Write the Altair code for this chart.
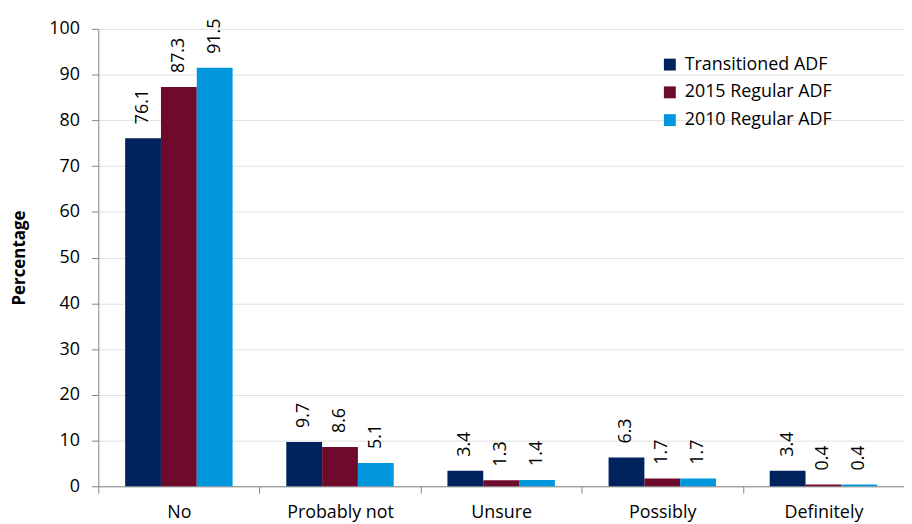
import altair as alt
import pandas as pd

categories = ["No", "Probably not", "Unsure", "Possibly", "Definitely"]
series = ["Transitioned ADF", "2015 Regular ADF", "2010 Regular ADF"]
transitioned = [76.1, 9.7, 3.4, 6.3, 3.4]
regular_2015 = [87.3, 8.6, 1.3, 1.7, 0.4]
regular_2010 = [91.5, 5.1, 1.4, 1.7, 0.4]
colors = ["#00235E", "#6E0A2B", "#0097DD"]
y_ticks = list(range(0, 101, 10))

rows = []
for s, vals in zip(series, [transitioned, regular_2015, regular_2010]):
    for c, v in zip(categories, vals):
        rows.append({"category": c, "series": s, "value": v})
df = pd.DataFrame(rows)

FONT = "Open Sans"

x_enc = alt.X(
    "category:N",
    sort=categories,
    scale=alt.Scale(paddingInner=0, paddingOuter=0),
    axis=alt.Axis(
        title=None,
        labelAngle=0,
        tickBand="extent",
        grid=False,
        tickSize=7,
        labelPadding=10,
        labelFontSize=18,
        labelFont=FONT,
        labelColor="#000000",
        domainColor="#868686",
        tickColor="#868686",
    ),
)
xoff_enc = alt.XOffset(
    "series:N",
    sort=series,
    scale=alt.Scale(paddingInner=0, paddingOuter=0.75),
)
y_enc = alt.Y(
    "value:Q",
    scale=alt.Scale(domain=[0, 100], nice=False),
    axis=alt.Axis(
        title="Percentage",
        titleFont=FONT,
        titleFontSize=17,
        titleFontWeight="bold",
        titleColor="#000000",
        titlePadding=20,
        values=y_ticks,
        tickSize=7,
        labelPadding=12,
        labelFontSize=18,
        labelFont=FONT,
        labelColor="#000000",
        grid=True,
        gridColor="#E0E0E0",
        domainColor="#868686",
        tickColor="#868686",
    ),
)

bars = alt.Chart(df).mark_bar().encode(
    x=x_enc,
    xOffset=xoff_enc,
    y=y_enc,
    color=alt.Color(
        "series:N",
        sort=series,
        scale=alt.Scale(domain=series, range=colors),
        legend=alt.Legend(
            title=None,
            orient="none",
            legendX=567,
            legendY=27,
            symbolType="square",
            symbolSize=144,
            symbolStrokeWidth=0,
            labelFont=FONT,
            labelFontSize=18,
            labelColor="#000000",
            rowPadding=10,
            padding=0,
            labelOffset=6,
        ),
    ),
)

labels = alt.Chart(df).mark_text(
    angle=270, align="left", baseline="middle", dx=14, fontSize=18, font=FONT, color="#000000"
).encode(
    x=alt.X("category:N", sort=categories),
    xOffset=alt.XOffset("series:N", sort=series),
    y=alt.Y("value:Q"),
    text=alt.Text("value:Q", format=".1f"),
)

chart = (
    alt.layer(bars, labels)
    .properties(
        width=812,
        height=461,
        autosize=alt.AutoSizeParams(type="none"),
        padding={"left": 91, "top": 19, "right": 0, "bottom": 36},
    )
    .configure_view(strokeWidth=0)
)

chart.save("out.html", embed_options={"renderer": "svg", "actions": False})
